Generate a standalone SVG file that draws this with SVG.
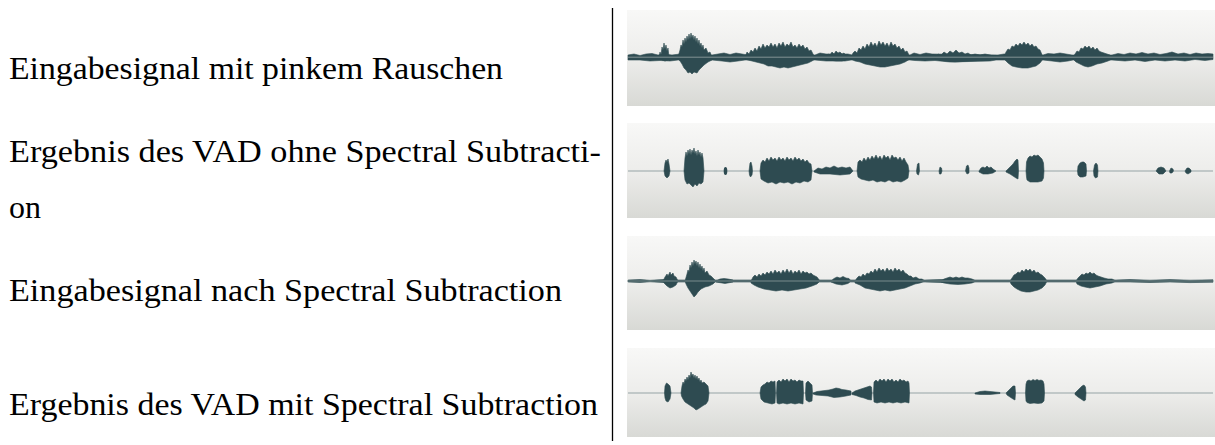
<svg xmlns="http://www.w3.org/2000/svg" width="1215" height="445" viewBox="0 0 1215 445">
<defs>
<linearGradient id="bg" x1="0" y1="0" x2="0" y2="1">
<stop offset="0" stop-color="#f8f8f7"/>
<stop offset="0.5" stop-color="#ededeb"/>
<stop offset="1" stop-color="#d8d9d5"/>
</linearGradient>
<style>
.panel{fill:url(#bg)}
.wave{fill:#2e4b51;stroke:#2e4b51;stroke-width:0.6;stroke-linejoin:round}
.axis{stroke:#95a4a6;stroke-width:1.2}
</style>
</defs>
<rect width="1215" height="445" fill="#fff"/>

<g id="labels" font-family="'Liberation Serif', 'Times New Roman', serif" font-size="31" fill="#000">
<text x="9" y="79" textLength="494" lengthAdjust="spacingAndGlyphs">Eingabesignal mit pinkem Rauschen</text>
<text x="9" y="162" textLength="592" lengthAdjust="spacingAndGlyphs">Ergebnis des VAD ohne Spectral Subtracti-</text>
<text x="9" y="218" textLength="32" lengthAdjust="spacingAndGlyphs">on</text>
<text x="9" y="301" textLength="553" lengthAdjust="spacingAndGlyphs">Eingabesignal nach Spectral Subtraction</text>
<text x="9" y="415" textLength="589" lengthAdjust="spacingAndGlyphs">Ergebnis des VAD mit Spectral Subtraction</text>
</g>

<line id="divider" x1="612.5" y1="8" x2="612.5" y2="441" stroke="#000" stroke-width="1.3"/>

<g id="panel1">
<rect class="panel" x="627" y="10" width="588" height="96"/>
<path class="wave" d="M628 55 L634 54 L640 55.5 L646 54 L652 53.5 L658 55 L664 54 L672 55 L680 54 L712 55 L718 54 L724 53 L730 54.5 L736 53 L742 54 L748 55 L815 55 L820 53 L826 54 L848 54 L852 55 L910 55 L914 53 L920 54.5 L926 53 L932 54 L998 55 L1004 54 L1043 55 L1048 53.5 L1054 54 L1060 53 L1066 54 L1072 55 L1112 55 L1118 53.5 L1124 54.5 L1130 53 L1136 54 L1142 52.5 L1148 54 L1154 53 L1160 54.5 L1166 53.5 L1172 52 L1178 54 L1184 53 L1190 54.5 L1196 53 L1202 54 L1208 53.5 L1213 54 L1213 59.5 L1205 60.5 L1195 59.5 L1185 61 L1175 60 L1165 61 L1155 60 L1145 61.5 L1135 60 L1125 61 L1112 60 L1073 60 L1068 61 L1060 62 L1052 61 L1043 60 L996 60 L990 61 L970 61.5 L950 62 L935 60.5 L925 61 L915 60.5 L910 60 L851 60 L845 61 L826 61 L815 60 L745 60 L738 61 L730 62 L722 61 L712 60 L678 60 L670 61 L660 60.5 L650 61 L640 60 L628 60 Z"/>
<path class="wave" d="M659 57 L660 52 L661 55 L662 47 L663 50 L664 43 L665 49 L666 45 L667 51 L668 48 L669 57 L668 60 L665 61 L662 60 Z"/>
<path class="wave" d="M678 57 L680 50 L681 45 L682 47 L683 40 L684 44 L685 38 L686 42 L687 36 L688 40 L689 34 L690 39 L691 33 L692 38 L693 35 L694 40 L695 36 L696 42 L697 38 L698 44 L699 40 L700 46 L701 43 L702 48 L703 45 L704 50 L706 48 L708 53 L710 52 L712 57 L712 60 L708 62 L704 65 L701 68 L699 70 L697 73 L694 72 L692 74 L690 72 L688 73 L686 70 L684 68 L682 64 L680 61 L678 59 Z"/>
<path class="wave" d="M745 57 L747 52 L749 54 L751 50 L753 52 L755 48 L757 51 L759 46 L761 49 L763 44 L765 48 L767 45 L769 47 L771 43 L773 47 L775 44 L777 48 L779 43 L781 46 L783 42 L785 47 L787 44 L789 46 L791 42 L793 47 L795 45 L797 48 L799 44 L801 47 L803 45 L805 49 L807 47 L809 51 L811 50 L813 54 L815 57 L815 59 L812 61 L808 63 L804 64 L800 65 L796 66 L792 67 L788 68 L784 67 L780 68 L776 67 L772 66 L768 66 L764 64 L760 63 L756 62 L752 61 L748 60 L745 59 Z"/>
<path class="wave" d="M826 57 L828 54 L830 55 L832 52 L834 54 L836 51 L838 53 L840 52 L842 54 L844 53 L847 57 L847 59 L842 61 L836 61 L830 60 L826 59 Z"/>
<path class="wave" d="M851 57 L853 53 L855 51 L857 53 L859 48 L861 50 L863 46 L865 49 L867 44 L869 47 L871 42 L873 46 L875 43 L877 47 L879 41 L881 45 L883 42 L885 46 L887 43 L889 47 L891 42 L893 46 L895 44 L897 48 L899 46 L901 50 L903 48 L905 52 L907 51 L910 57 L910 59 L905 62 L900 64 L895 65 L890 66 L885 67 L880 67 L875 66 L870 65 L865 64 L860 62 L855 61 L851 59 Z"/>
<path class="wave" d="M935 57 L938 54 L941 55 L944 52 L947 54 L950 51 L953 53 L956 50 L959 53 L962 52 L965 54 L968 53 L971 55 L975 54 L980 55 L985 54 L990 55 L996 57 L996 59 L985 60 L970 61 L955 62 L945 61 L935 59 Z"/>
<path class="wave" d="M1004 57 L1006 52 L1008 49 L1010 50 L1012 46 L1014 47 L1016 44 L1018 46 L1020 43 L1022 45 L1024 42 L1026 45 L1028 43 L1030 46 L1032 44 L1034 47 L1036 46 L1038 49 L1040 50 L1043 57 L1043 59 L1040 63 L1036 66 L1032 67 L1028 68 L1022 68 L1016 67 L1012 66 L1008 63 L1004 59 Z"/>
<path class="wave" d="M1073 57 L1075 54 L1077 51 L1079 52 L1081 48 L1083 49 L1085 46 L1087 48 L1089 46 L1091 49 L1093 47 L1095 50 L1097 48 L1099 51 L1101 52 L1104 53 L1107 54 L1110 55 L1112 57 L1112 59 L1108 61 L1102 63 L1097 64 L1092 66 L1088 67 L1084 66 L1080 64 L1076 62 L1073 59 Z"/>
<line x1="628" y1="57.2" x2="1213" y2="57.2" stroke="#8d9c9c" stroke-width="0.9"/>
</g>

<g id="panel2">
<rect class="panel" x="627" y="123" width="588" height="95"/>
<line class="axis" x1="628" y1="171" x2="1213" y2="171"/>
<path class="wave" d="M664 171 L665 163 L666 160 L667 162 L668 159 L669 164 L670 171 L669 176 L667 178 L665 176 Z"/>
<path class="wave" d="M684 171 L685 158 L686 152 L687 156 L688 150 L689 154 L690 149 L691 155 L692 150 L693 153 L694 148 L695 154 L696 151 L697 156 L698 150 L699 155 L700 152 L701 157 L702 153 L703 158 L704 171 L703 182 L701 184 L699 183 L697 186 L695 184 L693 187 L691 185 L689 183 L687 184 L685 180 Z"/>
<ellipse cx="725.5" cy="171" rx="1.8" ry="4" fill="#2e4b51"/>
<path class="wave" d="M749 171 L750 163 L751 162 L752 166 L752.5 171 L752 175 L750.5 177 L749.5 175 Z"/>
<path class="wave" d="M760 171 L761 163 L763 160 L765 162 L767 158 L769 161 L771 157 L773 160 L775 158 L777 161 L779 157 L781 160 L783 158 L785 161 L787 157 L789 160 L791 158 L793 161 L795 157 L797 160 L799 158 L801 161 L803 159 L805 162 L807 160 L809 163 L811 164 L812 171 L811 180 L808 182 L804 181 L800 183 L796 182 L792 184 L788 182 L784 183 L780 182 L776 184 L772 182 L768 183 L764 181 L761 179 Z"/>
<path class="wave" d="M814 171 L818 168 L822 169 L826 167 L830 168 L834 166 L838 168 L842 167 L846 168 L850 167 L853 171 L850 174 L840 175 L830 174 L820 174 L814 172 Z"/>
<path class="wave" d="M857 171 L858 162 L860 160 L862 162 L864 158 L866 161 L868 157 L870 160 L872 156 L874 159 L876 155 L878 159 L880 156 L882 160 L884 155 L886 158 L888 156 L890 160 L892 155 L894 158 L896 157 L898 160 L900 157 L902 161 L904 158 L906 162 L908 165 L909 171 L908 178 L905 180 L901 182 L897 181 L893 182 L889 180 L885 182 L881 181 L877 182 L873 180 L869 181 L865 180 L861 179 L858 177 Z"/>
<path class="wave" d="M916.5 171 L917.5 164 L919 163 L919.5 171 L918.5 175 L917 174 Z"/>
<path class="wave" d="M939 171 L940 167 L941.5 168 L942 171 L941 174 L939.5 174 Z"/>
<path class="wave" d="M965.5 171 L966.5 166 L968 165 L969 168 L969 173 L967 174 Z"/>
<path class="wave" d="M979 171 L981 168 L983 167 L985 168 L987 166 L989 168 L991 167 L993 169 L996 171 L993 173 L988 174 L983 174 L979 172 Z"/>
<path class="wave" d="M1006 171 L1010 167 L1013 164 L1015 161 L1017 159 L1018 160 L1018.5 171 L1018 179 L1016 178 L1013 176 L1010 174 L1006 172 Z"/>
<path class="wave" d="M1026 171 L1026.5 162 L1028 158 L1030 156 L1032 157 L1034 155 L1036 156 L1038 155 L1040 157 L1042 159 L1043.5 163 L1044 171 L1043.5 178 L1042 181 L1038 182 L1034 182 L1030 182 L1027 180 L1026.5 177 Z"/>
<path class="wave" d="M1077.5 171 L1078 166 L1080 163 L1082 162 L1084 162 L1086 164 L1086.5 171 L1086 176 L1083 177 L1080 177 L1078 175 Z"/>
<path class="wave" d="M1093.5 171 L1094.5 165 L1096 163 L1097.5 165 L1098 171 L1097.5 177 L1095.5 178 L1094 176 Z"/>
<path class="wave" d="M1156 171 L1158 168 L1161 167 L1164 168 L1166 171 L1163 174 L1159 174 Z M1169.5 171 L1171 168 L1173 169 L1173.5 171 L1172 173 L1170 173 Z M1185 171 L1187 168 L1189 168 L1191 170 L1191 172 L1188 174 L1186 173 Z"/>
</g>

<g id="panel3">
<rect class="panel" x="627" y="236" width="588" height="94"/>
<path class="wave" d="M628 280 L640 279.5 L650 280.3 L663 279.5 L678 280 L716 280 L733 280 L751 280 L820 280 L831 280 L851 280 L855 280 L925 280 L941 279.5 L976 280 L1010 280 L1047 280 L1076 280 L1116 280 L1130 279.5 L1150 280.2 L1170 279.6 L1190 280.2 L1213 279.8 L1213 282.2 L1190 282.6 L1170 282 L1150 282.5 L1130 282 L1116 282 L1076 282 L1047 282 L1010 282 L976 282 L941 282.5 L925 282 L855 282 L851 282 L831 282 L820 282 L751 282 L733 282 L716 282 L678 282 L663 282.5 L650 281.8 L640 282.5 L628 282 Z"/>
<path class="wave" d="M663 281 L665 277 L667 274 L668 276 L670 272 L671 275 L673 273 L674 276 L676 277 L678 281 L676 285 L673 287 L670 288 L667 286 L664 283 Z"/>
<path class="wave" d="M685 281 L687 274 L688 270 L689 272 L690 265 L691 268 L692 262 L693 266 L694 260 L695 264 L696 261 L697 266 L698 262 L699 268 L700 264 L701 269 L702 266 L703 271 L704 268 L705 273 L707 271 L709 275 L711 276 L713 278 L716 281 L713 284 L709 286 L705 287 L701 289 L698 292 L696 295 L694 297 L692 294 L690 291 L688 288 L686 284 Z"/>
<path class="wave" d="M716 281 L720 279 L724 278.5 L728 279 L733 280 L733 282 L725 283.5 L716 282 Z"/>
<path class="wave" d="M751 281 L753 277 L755 275 L757 277 L759 274 L761 276 L763 273 L765 275 L767 272 L769 274 L771 271 L773 274 L775 270 L777 273 L779 271 L781 274 L783 270 L785 273 L787 269 L789 273 L791 270 L793 274 L795 271 L797 273 L799 270 L801 274 L803 271 L805 273 L807 272 L809 274 L811 273 L813 275 L815 276 L817 277 L820 281 L817 284 L812 286 L806 288 L800 289 L794 290 L788 291 L782 290 L776 291 L770 290 L764 289 L758 287 L754 285 L751 283 Z"/>
<path class="wave" d="M831 281 L834 278.5 L837 277 L840 278 L843 276.5 L846 278 L849 278.5 L851 281 L848 283.5 L842 285 L836 284 L831 282 Z"/>
<path class="wave" d="M855 281 L857 278 L859 276 L861 277 L863 274 L865 276 L867 273 L869 274 L871 271 L873 273 L875 269 L877 272 L879 268 L881 271 L883 269 L885 272 L887 268 L889 271 L891 269 L893 272 L895 268 L897 271 L899 269 L901 272 L903 270 L905 273 L907 274 L909 276 L911 276 L913 278 L916 277 L919 279 L922 279 L925 281 L920 283 L915 284 L910 286 L905 288 L900 289 L895 290 L890 291 L885 290 L880 291 L875 290 L870 289 L865 288 L860 285 L855 283 Z"/>
<path class="wave" d="M941 281 L944 279 L947 278 L950 277 L953 278 L956 277 L959 278 L962 277 L965 278 L968 278 L972 279 L976 281 L972 283 L965 284 L958 284.5 L950 284 L944 283 L941 282 Z"/>
<path class="wave" d="M1010 281 L1012 278 L1014 275 L1016 274 L1018 272 L1020 273 L1022 270 L1024 272 L1026 269 L1028 271 L1030 269 L1032 272 L1034 270 L1036 273 L1038 272 L1040 274 L1042 275 L1045 278 L1047 281 L1045 285 L1042 288 L1038 290 L1034 291 L1030 292 L1026 292 L1021 291 L1017 289 L1014 287 L1011 284 Z"/>
<path class="wave" d="M1076 281 L1078 278 L1080 276 L1082 274 L1084 275 L1086 273 L1088 274 L1090 272 L1092 274 L1094 273 L1096 275 L1098 276 L1101 277 L1104 278 L1108 279 L1112 279 L1116 281 L1112 283 L1106 284 L1100 286 L1095 287 L1090 288 L1085 287 L1081 286 L1077 284 Z"/>
<line x1="628" y1="281" x2="1213" y2="281" stroke="#8d9c9c" stroke-width="0.8"/>
</g>

<g id="panel4">
<rect class="panel" x="627" y="348" width="588" height="89"/>
<line class="axis" x1="628" y1="393" x2="1213" y2="393"/>
<path class="wave" d="M664.5 393 L665 386 L666.5 383 L668 384 L670 386 L671 393 L670 399 L668 402 L666 401 L665 398 Z"/>
<path class="wave" d="M681 393 L682 386 L683 382 L684 384 L685 379 L686 381 L687 377 L688 380 L689 375 L690 378 L691 372 L692 376 L693 374 L694 378 L695 375 L696 379 L697 376 L698 380 L699 378 L700 382 L701 380 L702 383 L704 382 L706 384 L708 386 L709 393 L708 401 L706 404 L704 405 L701 407 L698 409 L696 410 L694 408 L691 406 L688 404 L685 402 L683 399 L681.5 396 Z"/>
<path class="wave" d="M760 393 L761 387 L763 385 L765 384 L767 382 L769 383 L771 381 L773 382 L775 381 L775.5 393 L775 403 L772 404 L768 403 L764 402 L761 399 Z"/>
<path class="wave" d="M776.5 393 L777 382 L779 380 L781 382 L783 379 L785 381 L787 379 L789 382 L791 379 L793 381 L795 380 L797 382 L799 380 L801 381 L803 381 L803.5 393 L803 404 L799 403 L795 404 L791 403 L787 404 L783 403 L779 404 L777 403 Z"/>
<path class="wave" d="M805.5 393 L806 383 L808 381 L810 383 L812 385 L812.5 393 L812 401 L809 402 L806 400 Z"/>
<path class="wave" d="M813 393 L817 391.5 L821 391 L825 390.5 L829 390 L833 389 L836 388 L839 388.5 L842 389.5 L846 390 L851 391 L851 395 L846 396 L840 397 L834 397.5 L828 396 L822 395.5 L816 395 L813 394 Z"/>
<path class="wave" d="M852 393 L855 391 L858 390 L861 389 L864 388 L867 387 L870 386 L871.5 387 L872 393 L871.5 400 L868 399.5 L864 398 L860 397 L856 395.5 L852 394.5 Z"/>
<path class="wave" d="M873.5 393 L874 382 L876 380 L878 382 L880 379 L882 381 L884 379 L886 382 L888 379 L890 381 L892 379 L894 382 L896 380 L898 382 L900 379 L902 381 L904 380 L906 382 L908 381 L909 383 L909.5 393 L909 403 L905 402 L901 403 L897 402 L893 403 L889 402 L885 403 L881 402 L877 403 L874 402 Z"/>
<path class="wave" d="M975 393 L980 391.5 L985 391 L990 391.5 L995 392 L1000 392.5 L1000 393.5 L990 394.5 L980 394.5 L975 394 Z"/>
<path class="wave" d="M1006 393 L1009 390 L1011 388 L1013 386 L1015 386 L1015.5 393 L1015 400 L1013 399 L1010 397 L1007 395 Z"/>
<path class="wave" d="M1025.5 393 L1026 384 L1027 381 L1029 380 L1031 381 L1033 379.5 L1035 380.5 L1037 379.5 L1039 380.5 L1041 380 L1043 381 L1044 384 L1044.5 393 L1044 401 L1042 403 L1038 403.5 L1034 403 L1030 403.5 L1027 402.5 L1026 401 Z"/>
<path class="wave" d="M1075 393 L1078 390 L1080 388 L1082 386 L1084 385 L1085.5 387 L1086 393 L1085.5 400 L1084 401 L1081 399 L1078 397 L1075 394.5 Z"/>
</g>
</svg>
